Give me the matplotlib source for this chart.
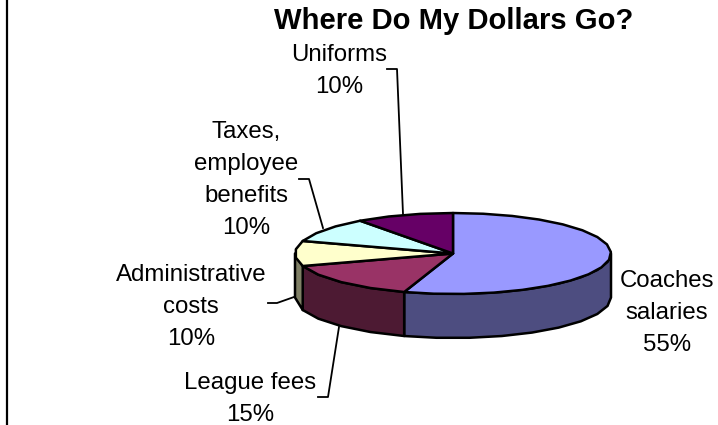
import matplotlib
matplotlib.use('Agg')
import matplotlib.pyplot as plt
import numpy as np

plt.rcParams['font.family'] = ['Liberation Sans', 'DejaVu Sans']

categories = ['Coaches\nsalaries', 'League fees', 'Administrative\ncosts',
              'Taxes,\nemployee\nbenefits', 'Uniforms']
shares = [55, 15, 10, 10, 10]
top_colors = ['#9999ff', '#993366', '#ffffcc', '#ccffff', '#660066']
side_colors = ['#4d4d80', '#4d1a33', '#808066', '#668080', '#330033']

# label centre x and baseline of the first line, in pixels
label_pos = [(667, 287), (250, 389), (191, 281), (246, 138), (339, 61)]
leaders = [None,
           [(318, 397), (328, 397), (339, 327)],
           [(268, 303), (277, 303), (294, 297)],
           [(299, 179), (309, 179), (323, 228)],
           [(387, 69), (397, 69), (403, 214)]]
line_step = 32

cx, cy = 453, 253.5
rx, ry = 158, 40.5
depth = 44


def ellipse_pts(a0, a1):
    # angles in degrees, clockwise from the top of the pie
    n = max(int(abs(a1 - a0) / 11), 1) + 1
    t = np.radians(np.linspace(a0, a1, n))
    return cx + rx * np.sin(t), cy - ry * np.cos(t)


fig = plt.figure(figsize=(7.18, 4.25), dpi=100)
ax = fig.add_axes([0, 0, 1, 1])
ax.set_xlim(0, 718)
ax.set_ylim(425, 0)
ax.axis('off')

# left border of the chart area
ax.plot([7, 7], [0, 425], color='black', lw=1.6)

edges = np.cumsum([0] + shares) * 3.6

# side wall, only the front half of the ellipse shows
for i in range(len(shares)):
    a0, a1 = max(edges[i], 90), min(edges[i + 1], 270)
    if a1 <= a0:
        continue
    x, y = ellipse_pts(a0, a1)
    ax.fill(np.r_[x, x[::-1]], np.r_[y, y[::-1] + depth],
            facecolor=side_colors[i], edgecolor='black', lw=1.8, joinstyle='round')

# top face
for i in range(len(shares)):
    x, y = ellipse_pts(edges[i], edges[i + 1])
    ax.fill(np.r_[cx, x], np.r_[cy, y],
            facecolor=top_colors[i], edgecolor='black', lw=1.8, joinstyle='round')

# leader lines and labels
for i, name in enumerate(categories):
    if leaders[i] is not None:
        lx, ly = zip(*leaders[i])
        ax.plot(lx, ly, color='black', lw=1.3, zorder=1)
    lines = name.split('\n') + [f'{shares[i]}%']
    for k, line in enumerate(lines):
        ax.text(label_pos[i][0], label_pos[i][1] + k * line_step, line, ha='center',
                va='baseline', fontsize=17.3, color='black')

ax.text(453.5, 28.5, 'Where Do My Dollars Go?', ha='center', va='baseline',
        fontsize=21.1, fontweight='bold', color='black')

fig.savefig('out.png', dpi=100)
